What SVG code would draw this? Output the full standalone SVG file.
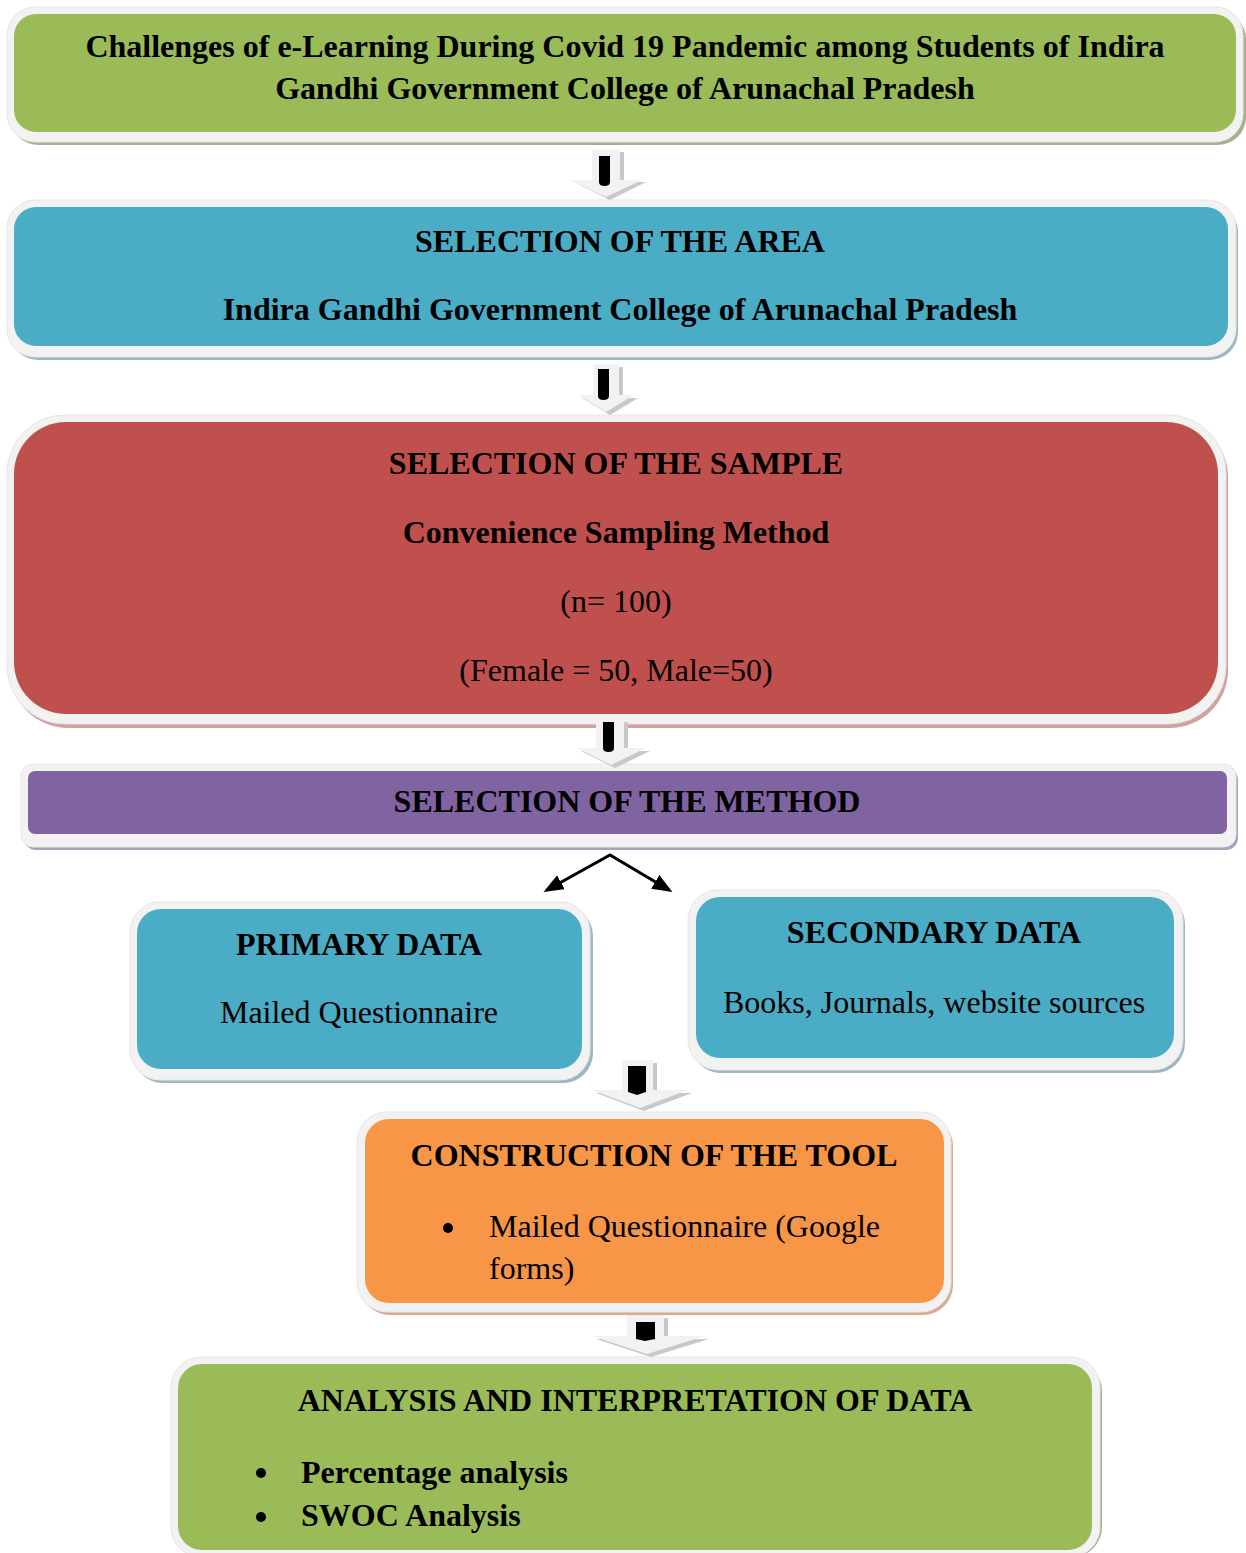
<svg xmlns="http://www.w3.org/2000/svg" width="1246" height="1553" viewBox="0 0 1246 1553">
<style>
.t{font-family:"Liberation Serif","Times New Roman",serif;fill:#000;text-anchor:middle}
.b{font-weight:bold;font-size:32px}
.n{font-size:32px}
.tl{font-family:"Liberation Serif","Times New Roman",serif;fill:#000;text-anchor:start}
.outer{fill:#f2f2f2;stroke:#e6e6e6;stroke-width:1}
.ah{fill:#f2f2f2}
.as{fill:#c8c8c8}
</style>
<defs>
<marker id="tri" viewBox="0 0 10 10" refX="8" refY="5" markerWidth="20" markerHeight="16" orient="auto-start-reverse" markerUnits="userSpaceOnUse" preserveAspectRatio="none">
<path d="M0,0 L10,5 L0,10 z" fill="#000"/>
</marker>
</defs>
<rect width="1246" height="1553" fill="#fff"/>

<g id="title">
<rect x="10" y="11" width="1236" height="134" rx="28" fill="#a7b08e"/>
<rect x="7" y="7" width="1236" height="135" rx="28" class="outer"/>
<rect x="14" y="14" width="1222" height="118" rx="22" fill="#9bbb59"/>
<text class="t b" x="625" y="57">Challenges of e-Learning During Covid 19 Pandemic among Students of Indira</text>
<text class="t b" x="625" y="99">Gandhi Government College of Arunachal Pradesh</text>
</g>

<g id="area">
<rect x="10" y="204" width="1228" height="156" rx="28" fill="#9bb8c0"/>
<rect x="7" y="200" width="1229" height="157" rx="28" class="outer"/>
<rect x="14" y="207" width="1214" height="139" rx="22" fill="#4bacc6"/>
<text class="t b" x="620" y="252">SELECTION OF THE AREA</text>
<text class="t b" x="620" y="320">Indira Gandhi Government College of Arunachal Pradesh</text>
</g>

<g id="sample">
<rect x="10" y="419" width="1218" height="309" rx="58" fill="#cfa3a2"/>
<rect x="7" y="415" width="1219" height="309" rx="58" class="outer"/>
<rect x="14" y="422" width="1204" height="292" rx="52" fill="#c0504d"/>
<text class="t b" x="616" y="474">SELECTION OF THE SAMPLE</text>
<text class="t b" x="616" y="543">Convenience Sampling Method</text>
<text class="t n" x="616" y="612">(n= 100)</text>
<text class="t n" x="616" y="681">(Female = 50, Male=50)</text>
</g>

<g id="method">
<rect x="24" y="768" width="1214" height="82" rx="12" fill="#aaa0b8"/>
<rect x="21" y="764" width="1215" height="83" rx="12" class="outer"/>
<rect x="28" y="771" width="1199" height="63" rx="7" fill="#8064a2"/>
<text class="t b" x="627" y="812">SELECTION OF THE METHOD</text>
</g>

<g id="primary">
<rect x="133" y="906" width="460" height="177" rx="30" fill="#9bb8c0"/>
<rect x="130" y="902" width="460" height="178" rx="30" class="outer"/>
<rect x="137" y="909" width="445" height="160" rx="24" fill="#4bacc6"/>
<text class="t b" x="359" y="955">PRIMARY DATA</text>
<text class="t n" x="359" y="1023">Mailed Questionnaire</text>
</g>

<g id="secondary">
<rect x="691" y="894" width="494" height="179" rx="30" fill="#9bb8c0"/>
<rect x="688" y="890" width="495" height="180" rx="30" class="outer"/>
<rect x="696" y="897" width="478" height="161" rx="24" fill="#4bacc6"/>
<text class="t b" x="934" y="943">SECONDARY DATA</text>
<text class="t n" x="934" y="1013">Books, Journals, website sources</text>
</g>

<g id="tool">
<rect x="360" y="1116" width="593" height="199" rx="30" fill="#dcab8f"/>
<rect x="357" y="1112" width="594" height="200" rx="30" class="outer"/>
<rect x="365" y="1119" width="579" height="184" rx="24" fill="#f79646"/>
<text class="t b" x="654" y="1166">CONSTRUCTION OF THE TOOL</text>
<circle cx="448" cy="1228" r="5" fill="#000"/>
<text class="tl n" x="489" y="1237">Mailed Questionnaire (Google</text>
<text class="tl n" x="489" y="1279">forms)</text>
</g>

<g id="analysis">
<rect x="174" y="1361" width="928" height="196" rx="30" fill="#a7b08e"/>
<rect x="171" y="1357" width="929" height="200" rx="30" class="outer"/>
<rect x="178" y="1364" width="914" height="186" rx="24" fill="#9bbb59"/>
<text class="t b" x="635" y="1411">ANALYSIS AND INTERPRETATION OF DATA</text>
<circle cx="261" cy="1473" r="5" fill="#000"/>
<text class="tl b" x="301" y="1483">Percentage analysis</text>
<circle cx="261" cy="1517" r="5" fill="#000"/>
<text class="tl b" x="301" y="1526">SWOC Analysis</text>
</g>

<g id="connectors">
<g id="arrow1">
<path d="M596,152 H624 V182 H646 L610,200 L574,182 H596 Z" class="as"/>
<path d="M592,150 H620 V180 H642 L606,197 L570,180 H592 Z" class="ah"/>
<path d="M599,156 H610 V182 Q610,186 604.5,186 Q599,186 599,182 Z" fill="#000"/>
</g>
<g id="arrow2">
<path d="M597,367 H623 V398 H638 L610,415 L582,398 H597 Z" class="as"/>
<path d="M593,364 H619 V395 H634 L606,412 L578,395 H593 Z" class="ah"/>
<path d="M598,369 H609 V396 Q609,400 603.5,400 Q598,400 598,396 Z" fill="#000"/>
</g>
<g id="arrow3">
<path d="M600,722 H628 V751 H650 L615,768 L581,751 H600 Z" class="as"/>
<path d="M596,720 H624 V748 H646 L611,765 L577,748 H596 Z" class="ah"/>
<path d="M603,722 H614 V748 Q614,752 608.5,752 Q603,752 603,748 Z" fill="#000"/>
</g>
<g id="arrow4">
<path d="M626,1063 H657 V1093 H692 L644,1111 L596,1093 H626 Z" class="as"/>
<path d="M622,1060 H653 V1090 H688 L640,1108 L592,1090 H622 Z" class="ah"/>
<path d="M628,1066 H646 V1092 L637,1095 L628,1092 Z" fill="#000"/>
</g>
<g id="arrow5">
<path d="M631,1318 H668 V1339 H709 L651,1357 L596,1339 H631 Z" class="as"/>
<path d="M627,1315 H664 V1336 H705 L647,1354 L592,1336 H627 Z" class="ah"/>
<path d="M636,1322 H655 V1339 L645,1341 L636,1339 Z" fill="#000"/>
</g>
<g id="split" fill="none" stroke="#000" stroke-width="3">
<polyline points="547,890 610,855 669,890" marker-start="url(#tri)" marker-end="url(#tri)"/>
</g>
</g>
</svg>
